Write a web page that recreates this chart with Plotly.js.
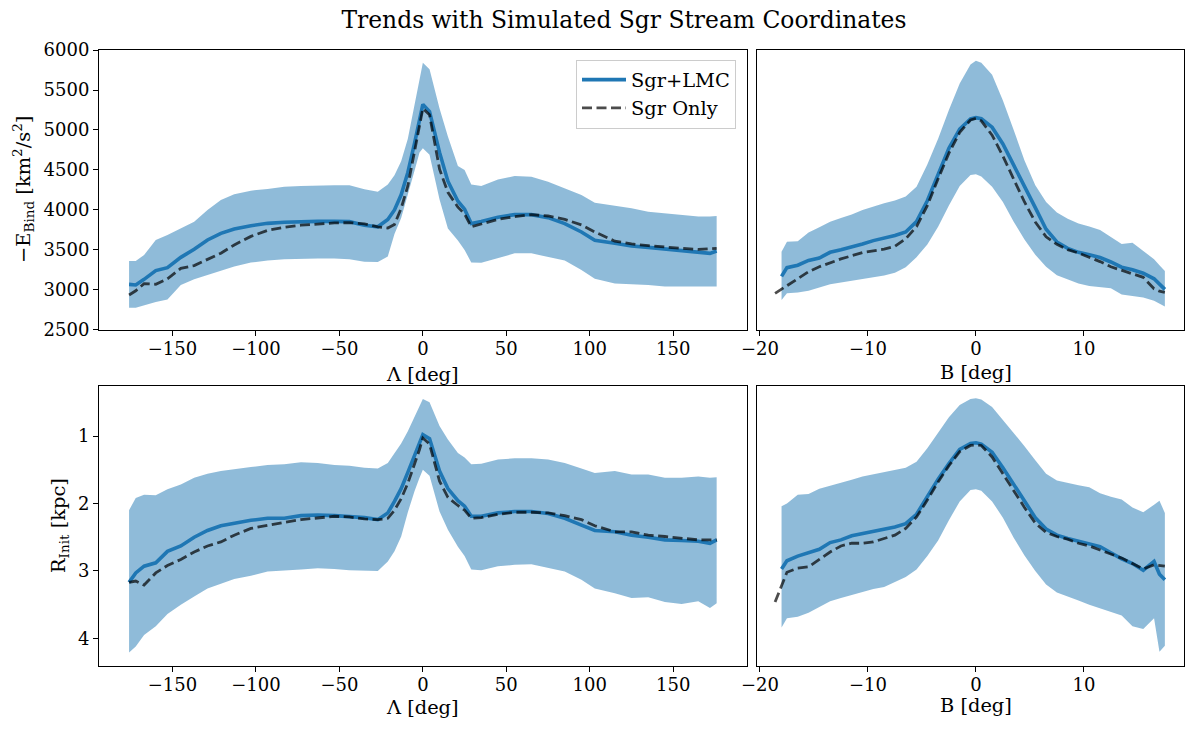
<!DOCTYPE html>
<html>
<head>
<meta charset="utf-8">
<script src="https://cdn.plot.ly/plotly-3.0.1.min.js"></script>
<style>html,body{margin:0;padding:0;background:#fff;}#chart{width:1193px;height:731px;}</style>
</head>
<body>
<div id="chart"></div>
<script>
// ---- Data: Lambda panels ----
const LAMBDA = [-176,-172,-167,-160,-153,-145,-137,-129,-121,-113,-103,-93,-83,-73,-63,-53,-44,-35,-27,-21,-17,-13,-9,-5,-2,0,4,10,15,21,25,29,35,45,55,65,75,85,95,103,115,125,135,145,155,165,172,176];
const E_LMC_L = [3070,3063,3133,3242,3279,3408,3508,3625,3708,3763,3804,3833,3846,3854,3858,3858,3854,3808,3790,3880,4000,4190,4470,4833,5134,5320,5230,4720,4360,4110,4010,3830,3855,3910,3942,3942,3904,3830,3725,3620,3583,3550,3533,3513,3492,3471,3458,3487];
const E_ONLY_L = [2938,2990,3080,3071,3140,3270,3305,3380,3460,3563,3670,3745,3785,3810,3828,3838,3842,3825,3790,3775,3820,4020,4300,4710,5048,5270,5190,4510,4220,4035,3950,3790,3825,3883,3917,3942,3925,3883,3813,3725,3610,3575,3554,3542,3521,3508,3515,3521];
const E_HI_L = [3363,3363,3438,3625,3688,3771,3854,3999,4125,4196,4242,4263,4292,4300,4308,4308,4308,4258,4229,4320,4433,4610,4890,5300,5640,5842,5760,5270,4920,4550,4500,4320,4300,4380,4425,4415,4354,4271,4188,4090,4055,4021,3979,3958,3938,3917,3920,3925];
const E_LO_L = [2779,2779,2805,2850,2880,3063,3133,3188,3242,3292,3342,3367,3383,3392,3392,3392,3383,3354,3350,3420,3700,3900,4180,4492,4720,4771,4690,4130,3770,3620,3500,3345,3340,3400,3458,3458,3417,3367,3250,3140,3080,3071,3063,3042,3042,3042,3042,3042];
const R_LMC_L = [3.17,3.03,2.93,2.88,2.71,2.63,2.50,2.40,2.33,2.29,2.25,2.22,2.22,2.18,2.17,2.18,2.19,2.21,2.24,2.14,1.97,1.78,1.54,1.30,1.11,0.98,1.04,1.52,1.78,1.96,2.04,2.19,2.19,2.14,2.12,2.12,2.15,2.22,2.32,2.40,2.42,2.47,2.50,2.54,2.55,2.56,2.59,2.54];
const R_ONLY_L = [3.17,3.15,3.21,3.03,2.92,2.83,2.72,2.63,2.57,2.47,2.37,2.32,2.28,2.24,2.21,2.19,2.20,2.23,2.24,2.22,2.10,1.93,1.70,1.42,1.20,1.03,1.12,1.67,1.91,2.03,2.10,2.22,2.21,2.16,2.13,2.13,2.14,2.18,2.24,2.33,2.42,2.42,2.47,2.49,2.51,2.54,2.54,2.54];
const R_HI_L = [2.10,1.92,1.87,1.88,1.79,1.72,1.62,1.56,1.52,1.49,1.46,1.43,1.42,1.39,1.40,1.43,1.44,1.47,1.48,1.40,1.26,1.11,0.93,0.71,0.54,0.45,0.50,0.85,1.05,1.25,1.32,1.42,1.41,1.35,1.33,1.33,1.35,1.40,1.48,1.55,1.52,1.57,1.57,1.62,1.62,1.60,1.62,1.61];
const R_LO_L = [4.21,4.12,3.95,3.82,3.64,3.50,3.38,3.26,3.19,3.12,3.07,3.01,3.00,2.98,2.96,2.97,2.99,3.00,3.00,2.86,2.71,2.49,2.13,1.82,1.62,1.50,1.59,2.12,2.39,2.64,2.78,2.98,2.99,2.93,2.91,2.90,2.96,3.01,3.13,3.26,3.33,3.40,3.39,3.46,3.49,3.45,3.55,3.48];

// ---- Data: B panels ----
const BETA = [-18,-17.5,-16.5,-15.5,-14.5,-13.5,-12.5,-11.5,-10.5,-9.5,-8.5,-7.5,-6.5,-5.5,-4.5,-3.5,-2.5,-1.5,-0.5,0,0.5,1.5,2.5,3.5,4.5,5.5,6.5,7.5,8.5,9.5,10.5,11.5,12.5,13.5,14.5,15.5,16.5,17.0,17.5];
const BETA_ONLY = [-18.6,-17.5,-16.5,-15.5,-14.5,-13.5,-12.5,-11.5,-10.5,-9.5,-8.5,-7.5,-6.5,-5.5,-4.5,-3.5,-2.5,-1.5,-0.5,0,0.5,1.5,2.5,3.5,4.5,5.5,6.5,7.5,8.5,9.5,10.5,11.5,12.5,13.5,14.5,15.5,16.5,17.0,17.5];
const E_LMC_B = [3170,3279,3310,3370,3400,3471,3503,3535,3575,3617,3645,3680,3725,3854,4115,4435,4770,5010,5138,5154,5140,5035,4825,4560,4305,4030,3760,3600,3520,3470,3440,3405,3350,3285,3253,3210,3140,3080,3008];
const E_ONLY_B = [2958,3054,3150,3228,3290,3342,3388,3428,3467,3488,3510,3545,3640,3792,4055,4390,4710,4970,5125,5146,5115,4935,4675,4385,4100,3850,3665,3570,3505,3462,3410,3355,3290,3248,3208,3158,3015,2985,2970];
const E_HI_B = [3479,3604,3610,3720,3785,3854,3900,3945,4000,4045,4085,4120,4170,4292,4570,4890,5250,5580,5820,5867,5840,5690,5370,5000,4620,4310,4100,3970,3890,3830,3795,3750,3660,3575,3590,3490,3385,3310,3238];
const E_LO_B = [2875,2958,2968,2990,3030,3071,3095,3120,3140,3158,3180,3215,3285,3410,3570,3790,4055,4300,4438,4446,4420,4290,4100,3854,3630,3440,3290,3185,3130,3080,3050,3033,3021,2945,2928,2905,2865,2830,2792];
const R_LMC_B = [2.97,2.85,2.78,2.73,2.68,2.58,2.54,2.48,2.45,2.42,2.38,2.35,2.30,2.16,1.90,1.64,1.41,1.20,1.11,1.10,1.12,1.24,1.47,1.72,1.98,2.21,2.38,2.47,2.52,2.56,2.61,2.64,2.73,2.82,2.89,2.99,2.86,3.05,3.13];
const R_ONLY_B = [3.46,3.02,2.96,2.94,2.83,2.72,2.63,2.59,2.59,2.57,2.52,2.47,2.37,2.20,1.95,1.68,1.44,1.23,1.14,1.13,1.14,1.31,1.56,1.82,2.06,2.29,2.43,2.49,2.53,2.59,2.63,2.69,2.75,2.81,2.89,2.97,2.91,2.92,2.93];
const R_HI_B = [2.04,2.00,1.87,1.86,1.78,1.74,1.70,1.65,1.60,1.57,1.54,1.50,1.47,1.38,1.18,0.95,0.72,0.54,0.45,0.44,0.46,0.57,0.76,0.96,1.15,1.36,1.56,1.66,1.70,1.73,1.76,1.85,1.90,1.94,2.06,2.13,2.02,1.96,2.14];
const R_LO_B = [3.84,3.70,3.68,3.62,3.53,3.45,3.40,3.36,3.31,3.27,3.24,3.17,3.09,2.98,2.78,2.55,2.25,1.97,1.80,1.79,1.81,1.97,2.21,2.51,2.77,3.00,3.20,3.32,3.38,3.44,3.50,3.56,3.61,3.66,3.82,3.86,3.70,4.20,4.11];

const E_TICKS = [2500,3000,3500,4000,4500,5000,5500,6000];
const R_TICKS = [1,2,3,4];
const LAMBDA_TICKS = [-150,-100,-50,0,50,100,150];
const BETA_TICKS = [-20,-10,0,10];

// ---- Styles ----
const FONT = 'DejaVu Serif, Liberation Serif, serif';
const BAND = 'rgba(31,119,180,0.5)';
const BLUE = '#1f77b4';
const DASH = 'rgba(0,0,0,0.7)';
const W = 1193, H = 731;

function band(x, hi, lo, xa, ya) {
  return {
    x: x.concat(x.slice().reverse()),
    y: hi.concat(lo.slice().reverse()),
    xaxis: xa, yaxis: ya, type: 'scatter', mode: 'lines',
    fill: 'toself', fillcolor: BAND, line: {width: 0, color: BAND},
    showlegend: false, hoverinfo: 'skip'
  };
}
function lmc(x, y, xa, ya, show) {
  return {x: x, y: y, xaxis: xa, yaxis: ya, type: 'scatter', mode: 'lines',
    name: 'Sgr+LMC', line: {color: BLUE, width: 3.6}, showlegend: show, legendrank: 1};
}
function only(x, y, xa, ya, show) {
  return {x: x, y: y, xaxis: xa, yaxis: ya, type: 'scatter', mode: 'lines',
    name: 'Sgr Only', line: {color: DASH, width: 2.8, dash: '10px,4.5px'}, showlegend: show, legendrank: 2};
}

const data = [
  band(LAMBDA, E_HI_L, E_LO_L, 'x', 'y'),
  lmc(LAMBDA, E_LMC_L, 'x', 'y', true),
  only(LAMBDA, E_ONLY_L, 'x', 'y', true),
  band(BETA, E_HI_B, E_LO_B, 'x2', 'y2'),
  lmc(BETA, E_LMC_B, 'x2', 'y2', false),
  only(BETA_ONLY, E_ONLY_B, 'x2', 'y2', false),
  band(LAMBDA, R_HI_L, R_LO_L, 'x3', 'y3'),
  lmc(LAMBDA, R_LMC_L, 'x3', 'y3', false),
  only(LAMBDA, R_ONLY_L, 'x3', 'y3', false),
  band(BETA, R_HI_B, R_LO_B, 'x4', 'y4'),
  lmc(BETA, R_LMC_B, 'x4', 'y4', false),
  only(BETA_ONLY, R_ONLY_B, 'x4', 'y4', false)
];

function ax(extra) {
  return Object.assign({
    showline: true, linecolor: '#000', linewidth: 1, mirror: true,
    ticks: 'outside', ticklen: 5, tickwidth: 1, tickcolor: '#000',
    showgrid: false, zeroline: false, automargin: false,
    tickfont: {family: FONT, size: 18, color: '#000'}
  }, extra);
}
const titleFont = {family: FONT, size: 19.4, color: '#000'};

function label(text, px, py, angle) {
  return {text: text, xref: 'paper', yref: 'paper', x: px / W, y: 1 - py / H,
    xanchor: 'center', yanchor: 'middle', showarrow: false, textangle: angle || 0, font: titleFont};
}

const DL = [0.0830, 0.6259], DR = [0.6343, 0.9927];
const DT = [0.5486, 0.9316], DB = [0.0889, 0.4720];

const layout = {
  width: W, height: H,
  margin: {l: 0, r: 0, t: 0, b: 0},
  paper_bgcolor: '#fff', plot_bgcolor: '#fff',
  font: {family: FONT, color: '#000'},
  title: {text: 'Trends with Simulated Sgr Stream Coordinates', font: {family: FONT, size: 23.4, color: '#000'},
          x: 0.523, xanchor: 'center', xref: 'paper', y: 0.9726, yanchor: 'middle', yref: 'container'},
  showlegend: true,
  legend: {x: 736 / W, xanchor: 'right', y: 1 - 59.5 / H, yanchor: 'top', font: {family: FONT, size: 19.4, color: '#000'},
           bordercolor: '#cccccc', borderwidth: 1, bgcolor: 'rgba(255,255,255,0.8)', tracegroupgap: 0, itemwidth: 44},
  xaxis: ax({domain: DL, anchor: 'y', range: [-194, 194], tickvals: LAMBDA_TICKS, ticklabelstandoff: -3}),
  yaxis: ax({domain: DT, anchor: 'x', range: [2500, 6000], tickvals: E_TICKS}),
  xaxis2: ax({domain: DR, anchor: 'y2', range: [-20.3, 19.3], tickvals: BETA_TICKS, ticklabelstandoff: -3}),
  yaxis2: ax({domain: DT, anchor: 'x2', range: [2500, 6000], showticklabels: false, ticks: ''}),
  xaxis3: ax({domain: DL, anchor: 'y3', range: [-194, 194], tickvals: LAMBDA_TICKS, ticklabelstandoff: -3}),
  yaxis3: ax({domain: DB, anchor: 'x3', range: [4.41, 0.258], tickvals: R_TICKS}),
  xaxis4: ax({domain: DR, anchor: 'y4', range: [-20.3, 19.3], tickvals: BETA_TICKS, ticklabelstandoff: -3}),
  yaxis4: ax({domain: DB, anchor: 'x4', range: [4.41, 0.258], showticklabels: false, ticks: ''}),
  annotations: [
    label('Λ [deg]', 422, 374),
    label('B [deg]', 976, 372),
    label('Λ [deg]', 422, 707),
    label('B [deg]', 976, 705),
    label('−E<sub>Bind</sub> [km<sup>2</sup>/s<sup>2</sup>]', 23, 190, -90),
    label('R<sub>Init</sub> [kpc]', 59, 526, -90)
  ]
};

Plotly.newPlot('chart', data, layout, {staticPlot: true, displayModeBar: false});
</script>
</body>
</html>
